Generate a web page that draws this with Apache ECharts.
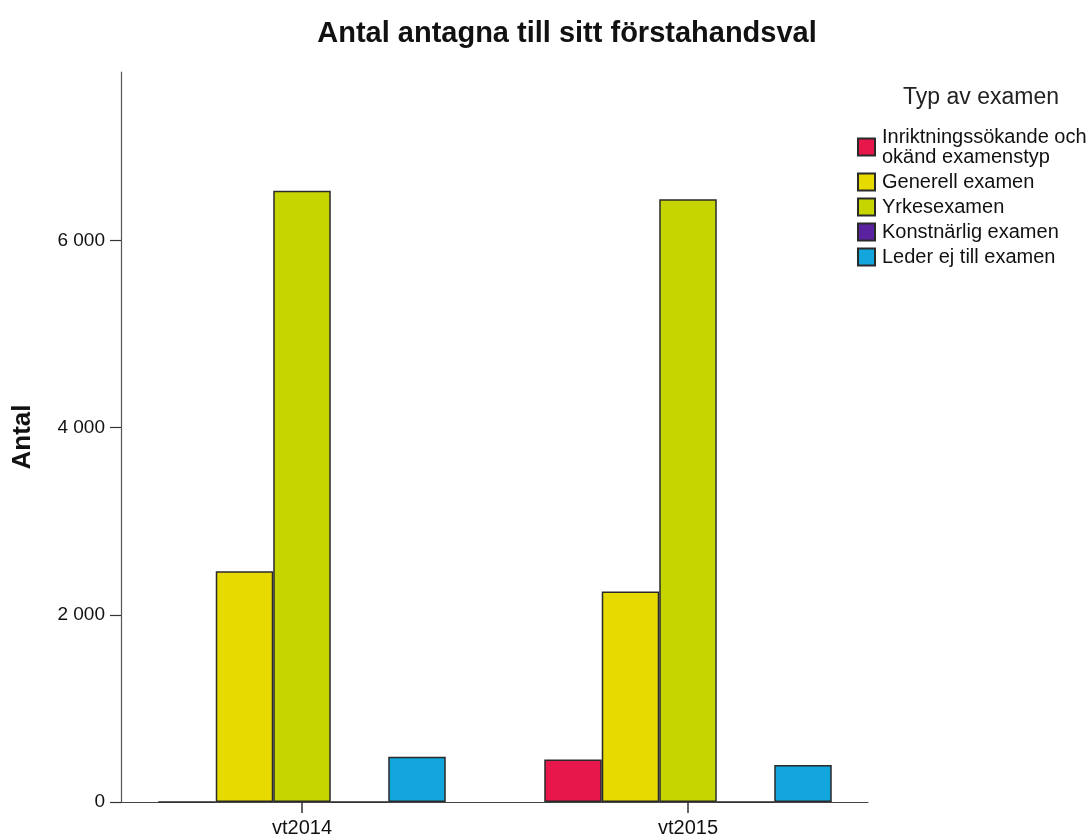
<!DOCTYPE html>
<html><head><meta charset="utf-8">
<script src="https://cdn.jsdelivr.net/npm/echarts@6/dist/echarts.min.js"></script>
<style>html,body{margin:0;padding:0;background:#fff}#c{width:1091px;height:839px}</style>
</head><body><div id="c"></div>
<script>
const categories = ['vt2014', 'vt2015'];
const seriesNames = ['Inriktningssökande och\nokänd examenstyp', 'Generell examen', 'Yrkesexamen', 'Konstnärlig examen', 'Leder ej till examen'];
const inriktning = [0, 455];
const generell = [2465, 2250];
const yrkes = [6530, 6440];
const konstnarlig = [0, 0];
const leder = [483, 395];
const yTicks = [0, 2000, 4000, 6000];
const yMin = 0, yMax = 7800;
const colors = ['#E8174B', '#E6DA00', '#C6D400', '#5B22A0', '#12A6DC'];
const values = [inriktning, generell, yrkes, konstnarlig, leder];

const FONT = 'Liberation Sans, Arial, sans-serif';
const fmt = v => String(v).replace(/\B(?=(\d{3})+(?!\d))/g, ' ');

const chart = echarts.init(document.getElementById('c'), null, {renderer: 'canvas'});
chart.setOption({
  backgroundColor: '#fff',
  animation: false,
  textStyle: {fontFamily: FONT},
  title: [
    {text: 'Antal antagna till sitt förstahandsval', left: 562, top: 14, textAlign: 'center',
     textStyle: {fontFamily: FONT, fontSize: 29, fontWeight: 'bold', color: '#111'}},
    {text: 'Typ av examen', left: 976, top: 81, textAlign: 'center',
     textStyle: {fontFamily: FONT, fontSize: 23, fontWeight: 'normal', color: '#222'}}
  ],
  legend: {
    orient: 'vertical', left: 857, top: 127, itemWidth: 17, itemHeight: 17, itemGap: 5,
    icon: 'rect', padding: 0,
    textStyle: {fontFamily: FONT, fontSize: 20, color: '#111', lineHeight: 20, padding: [0, 0, 0, 2]},
    data: seriesNames
  },
  grid: [
    {left: 121, right: 223, top: 72, bottom: 37},
    {left: 109, right: 210, top: 72, bottom: 37}
  ],
  xAxis: [
    {type: 'category', gridIndex: 0, data: categories,
     axisLine: {show: true, lineStyle: {color: '#444', width: 1.2}},
     axisTick: {show: false}, axisLabel: {show: false}, splitLine: {show: false}},
    {type: 'category', gridIndex: 1, data: categories,
     axisLine: {show: false},
     axisTick: {show: true, alignWithLabel: true, length: 11, lineStyle: {color: '#333', width: 1.5}},
     axisLabel: {fontFamily: FONT, fontSize: 20, color: '#111', margin: 16},
     splitLine: {show: false}}
  ],
  yAxis: [
    {type: 'value', gridIndex: 0, min: yMin, max: yMax,
     name: 'Antal', nameLocation: 'middle', nameGap: 85,
     nameTextStyle: {fontFamily: FONT, fontSize: 26, fontWeight: 'bold', color: '#111'},
     axisLine: {show: true, lineStyle: {color: '#555', width: 1.2}},
     axisTick: {show: true, length: 11, customValues: yTicks, lineStyle: {color: '#333', width: 1.2}},
     axisLabel: {customValues: yTicks, formatter: fmt, fontFamily: FONT, fontSize: 19, color: '#111', margin: 16},
     splitLine: {show: false}},
    {type: 'value', gridIndex: 1, min: yMin, max: yMax, show: false, splitLine: {show: false}}
  ],
  series: values.map((vals, i) => ({
    type: 'bar', name: seriesNames[i], xAxisIndex: 1, yAxisIndex: 1,
    data: vals, barWidth: 57.5, barGap: '0%',
    itemStyle: {color: colors[i], borderColor: '#2a2a2a', borderWidth: 1.5},
    emphasis: {disabled: true}
  }))
});
</script></body></html>
